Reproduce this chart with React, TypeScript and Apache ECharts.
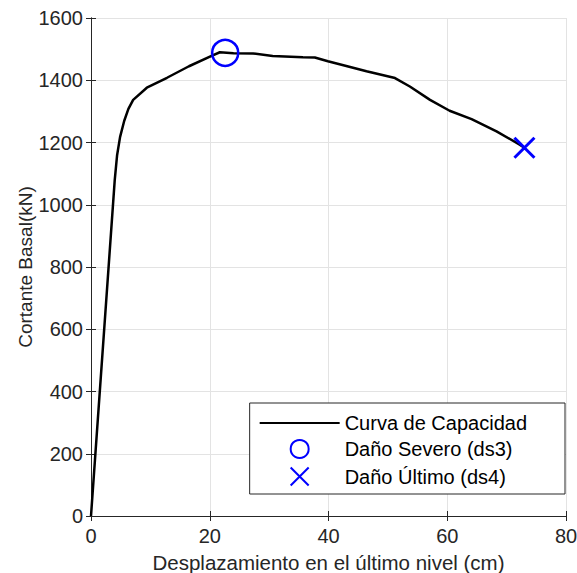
import React, { useEffect, useRef } from "react";
import * as echarts from "echarts";

const curveX = [0, 4.0, 4.4, 4.9, 5.6, 6.3, 7.1, 9.4, 12.8, 16.5, 20.4, 21.7, 24.0, 27.3, 30.6, 35.7, 37.7, 39.9, 43.0, 46.4, 51.2, 53.7, 57.1, 60.4, 64.1, 68.3, 72.2, 73.0];
const curveY = [0, 1080, 1160, 1218, 1270, 1308, 1337, 1376, 1408, 1445, 1479, 1490, 1487, 1486, 1478, 1474, 1473, 1461, 1446, 1429, 1407, 1380, 1337, 1302, 1275, 1236, 1193, 1183];
const severeX = [22.6];
const severeY = [1488];
const ultimateX = [73.0];
const ultimateY = [1183];
const xTicks = [0, 20, 40, 60, 80];
const yTicks = [0, 200, 400, 600, 800, 1000, 1200, 1400, 1600];

const seriesNames = ["Curva de Capacidad", "Daño Severo (ds3)", "Daño Último (ds4)"];

const FONT = "Liberation Sans, Arial, sans-serif";
const TXT = "#262626";
const FS = 20;

export default function App() {
  const ref = useRef<HTMLDivElement>(null);
  useEffect(() => {
    if (!ref.current) return;
    const chart = echarts.init(ref.current, null, { renderer: "svg" });
    const axisCommon = {
      min: 0,
      axisLine: { show: true, lineStyle: { color: TXT, width: 1 } },
      axisTick: { show: true, inside: true, length: 5, lineStyle: { color: TXT } },
    };
    const fmt = (v: number) => String(v);
    chart.setOption({
      animation: false,
      backgroundColor: "#ffffff",
      textStyle: { fontFamily: FONT },
      grid: { left: 91, right: 11, top: 18, bottom: 57, containLabel: false, outerBoundsMode: "none" },
      xAxis: [
        {
          ...axisCommon,
          type: "value",
          max: xTicks[xTicks.length - 1],
          interval: 20,
          position: "bottom",
          name: "Desplazamiento en el último nivel (cm)",
          nameLocation: "middle",
          nameGap: 36,
          nameMoveOverlap: false,
          nameTextStyle: { color: TXT, fontSize: 20.5, fontFamily: FONT },
          axisLabel: { color: TXT, fontSize: FS, margin: 10, fontFamily: FONT, formatter: fmt },
          splitLine: { show: true, lineStyle: { color: "#e3e3e3", width: 1 } },
        },
        {
          ...axisCommon,
          type: "value",
          max: xTicks[xTicks.length - 1],
          interval: 20,
          position: "top",
          axisLabel: { show: false },
          splitLine: { show: false },
        },
      ],
      yAxis: [
        {
          ...axisCommon,
          type: "value",
          max: yTicks[yTicks.length - 1],
          interval: 200,
          position: "left",
          name: "Cortante Basal(kN)",
          nameLocation: "middle",
          nameGap: 56,
          nameMoveOverlap: false,
          nameTextStyle: { color: TXT, fontSize: 19, fontFamily: FONT },
          axisLabel: { color: TXT, fontSize: FS, margin: 8, fontFamily: FONT, formatter: fmt },
          splitLine: { show: true, lineStyle: { color: "#e3e3e3", width: 1 } },
        },
        {
          ...axisCommon,
          type: "value",
          max: yTicks[yTicks.length - 1],
          interval: 200,
          position: "right",
          axisLabel: { show: false },
          splitLine: { show: false },
        },
      ],
      legend: {
        orient: "vertical",
        right: 12,
        bottom: 79,
        backgroundColor: "#ffffff",
        borderColor: TXT,
        borderWidth: 1,
        borderRadius: 0,
        padding: [10, 38, 6, 9],
        itemWidth: 80,
        itemHeight: 18,
        itemGap: 6,
        textStyle: { color: "#000", fontSize: FS, fontFamily: FONT, lineHeight: 20 },
        data: [
          { name: seriesNames[0], itemStyle: { opacity: 0 } },
          { name: seriesNames[1] },
          { name: seriesNames[2] },
        ],
      },
      series: [
        {
          name: seriesNames[0],
          type: "line",
          symbol: "none",
          data: curveX.map((x, i) => [x, curveY[i]]),
          lineStyle: { color: "#000", width: 2.5 },
          itemStyle: { color: "#000" },
          z: 2,
        },
        {
          name: seriesNames[1],
          type: "scatter",
          symbol: "circle",
          symbolSize: 26,
          data: severeX.map((x, i) => [x, severeY[i]]),
          itemStyle: { color: "rgba(0,0,0,0)", borderColor: "#0000ff", borderWidth: 2.5, opacity: 1 },
          z: 3,
        },
        {
          name: seriesNames[2],
          type: "scatter",
          symbol: "path://M0,0L10,10M10,0L0,10",
          symbolSize: 20,
          data: ultimateX.map((x, i) => [x, ultimateY[i]]),
          itemStyle: { color: "none", borderColor: "#0000ff", borderWidth: 3, opacity: 1 },
          z: 3,
        },
      ],
    });
    return () => chart.dispose();
  }, []);
  return <div ref={ref} style={{ width: 577, height: 573, position: "absolute", left: 0, top: 0 }} />;
}
